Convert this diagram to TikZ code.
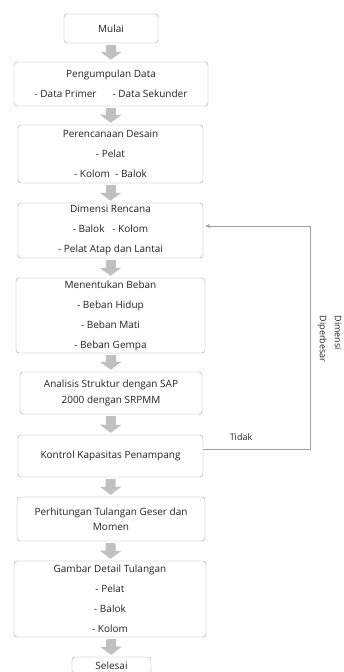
\documentclass[tikz,border=0pt]{standalone}
\usepackage{fontspec}
\setmainfont{Open Sans}
\usetikzlibrary{arrows.meta}
\definecolor{garis}{HTML}{A0A0A0}
\definecolor{panah}{HTML}{C0C0C0}
\definecolor{teks}{HTML}{222222}
\tikzset{
 kotak/.style={draw=garis, rounded corners=3pt, align=center, text=teks, font=\fontsize{10}{20}\selectfont, inner sep=0pt},
 alir/.style={draw=panah, line width=10pt, -{Triangle[length=8pt,width=21pt]}, shorten <=2pt, shorten >=2pt},
 balik/.style={draw=garis, thin, -{Stealth[length=5pt,width=4pt]}}
}
\begin{document}
\begin{tikzpicture}[x=1pt,y=-1pt]
 \useasboundingbox (0,0) rectangle (343,672);
 \node[kotak,minimum width=94pt,minimum height=29pt] (mulai) at (111,28.5) {Mulai};
 \node[kotak,minimum width=194pt,minimum height=44pt] (data) at (111,84) {Pengumpulan Data\\- Data Primer\hspace{16pt}- Data Sekunder};
 \node[kotak,minimum width=185pt,minimum height=58pt] (desain) at (110.5,154) {Perencanaan Desain\\- Pelat\\- Kolom \ - Balok};
 \node[kotak,minimum width=185pt,minimum height=55pt] (dimensi) at (110.5,230.5) {Dimensi Rencana\\- Balok \ \ - Kolom\\- Pelat Atap dan Lantai};
 \node[kotak,minimum width=189pt,minimum height=75pt] (beban) at (110.5,315.5) {Menentukan Beban\\- Beban Hidup\\- Beban Mati\\- Beban Gempa};
 \node[kotak,minimum width=182pt,minimum height=42pt] (analisis) at (111,393) {Analisis Struktur dengan SAP\\[-4pt]2000 dengan SRPMM};
 \node[kotak,minimum width=185pt,minimum height=42pt] (kontrol) at (110.5,456) {Kontrol Kapasitas Penampang};
 \node[kotak,minimum width=188pt,minimum height=44pt] (tulangan) at (111,519) {Perhitungan Tulangan Geser dan\\[-5.5pt]Momen};
 \node[kotak,minimum width=192pt,minimum height=76pt] (gambar) at (110,599) {Gambar Detail Tulangan\\- Pelat\\- Balok\\- Kolom};
 \node[kotak,minimum width=79pt,minimum height=17pt] (selesai) at (111.5,665.5) {Selesai};
 \draw[alir] (mulai) -- (data);
 \draw[alir] (data) -- (desain);
 \draw[alir] (desain) -- (dimensi);
 \draw[alir] (dimensi) -- (beban);
 \draw[alir] (beban) -- (analisis);
 \draw[alir] (analisis) -- (kontrol);
 \draw[alir] (kontrol) -- (tulangan);
 \draw[alir] (tulangan) -- (gambar);
 \draw[alir] (gambar) -- (selesai);
 \coordinate (belok) at (310,226);
 \draw[balik] ([yshift=7pt]kontrol.east) -| (belok) -- ([yshift=4.5pt,xshift=2pt]dimensi.east);
 \node[text=teks,font=\fontsize{9}{12}\selectfont] (tidak) at (241,437) {Tidak};
 \node[text=teks,font=\fontsize{9}{15}\selectfont,rotate=-90,align=left] (diperbesar) at (329.5,339) {Dimensi\\Diperbesar};
\end{tikzpicture}
\end{document}
